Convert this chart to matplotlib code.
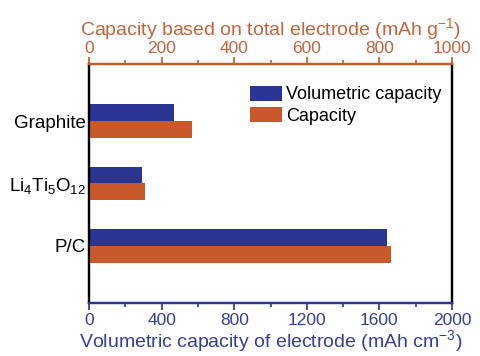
import matplotlib
matplotlib.use("Agg")
import matplotlib.pyplot as plt
import numpy as np

plt.rcParams['font.family'] = ['Liberation Sans', 'DejaVu Sans']
plt.rcParams['mathtext.fontset'] = 'custom'
plt.rcParams['mathtext.rm'] = 'Liberation Sans'
plt.rcParams['mathtext.it'] = 'Liberation Sans'

categories = ['Graphite', r'Li$_4$Ti$_5$O$_{12}$', 'P/C']
volumetric = [470, 294, 1640]      # mAh cm^-3 (bottom axis)
capacity = [285, 154, 831]         # mAh g^-1 (top axis)
vol_ticks = [0, 400, 800, 1200, 1600, 2000]
cap_ticks = [0, 200, 400, 600, 800, 1000]

blue = '#2a3492'
orange = '#c9582a'
blue_txt = '#33409a'
orange_txt = '#c4643c'

fig = plt.figure(figsize=(4.8, 3.56), dpi=100)
ax = fig.add_axes([0.1854, 0.149, 0.7563, 0.6712])
ax2 = ax.twiny()

y = np.arange(len(categories))
h = 0.27
ax.barh(y - h / 2, volumetric, height=h, color=blue, label='Volumetric capacity')
ax2.barh(y + h / 2, capacity, height=h, color=orange, label='Capacity')

ax.set_xlim(0, 2000)
ax2.set_xlim(0, 1000)
ax.set_ylim(2.92, -0.92)
ax.set_yticks(y)
ax.set_yticklabels(categories, fontsize=13.5)
ax.tick_params(axis='y', length=0, pad=2)

ax.set_xticks(vol_ticks)
ax.set_xticks(np.arange(200, 2000, 400), minor=True)
ax.tick_params(axis='x', which='both', colors=blue, labelcolor=blue_txt, labelsize=12.5, direction='out', width=1.2)
ax.tick_params(axis='x', which='major', length=5, pad=2)
ax.tick_params(axis='x', which='minor', length=3)
ax2.set_xticks(cap_ticks)
ax2.set_xticks(np.arange(100, 1000, 200), minor=True)
ax2.tick_params(axis='x', which='both', colors=orange, labelcolor=orange_txt, labelsize=12.5, direction='out', width=1.2)
ax2.tick_params(axis='x', which='major', length=5, pad=1)
ax2.tick_params(axis='x', which='minor', length=3)

ax.set_xlabel('Volumetric capacity of electrode (mAh cm$^{-3}$)', fontsize=14, color=blue_txt, labelpad=0)
ax2.set_xlabel('Capacity based on total electrode (mAh g$^{-1}$)', fontsize=14, color=orange_txt, labelpad=4)

for a in (ax, ax2):
    a.spines['left'].set_color('black')
    a.spines['right'].set_color('black')
    a.spines['bottom'].set_color(blue)
    a.spines['top'].set_color(orange)
    for s in a.spines.values():
        s.set_linewidth(1.6)

h1, l1 = ax.get_legend_handles_labels()
h2, l2 = ax2.get_legend_handles_labels()
ax2.legend(h1 + h2, l1 + l2, loc='upper left', bbox_to_anchor=(0.4435, 0.91), frameon=False,
           fontsize=13, handlelength=1.8, handleheight=0.9, handletextpad=0.2, labelspacing=0.2,
           borderaxespad=0, borderpad=0)

fig.savefig('out.png', dpi=100)
